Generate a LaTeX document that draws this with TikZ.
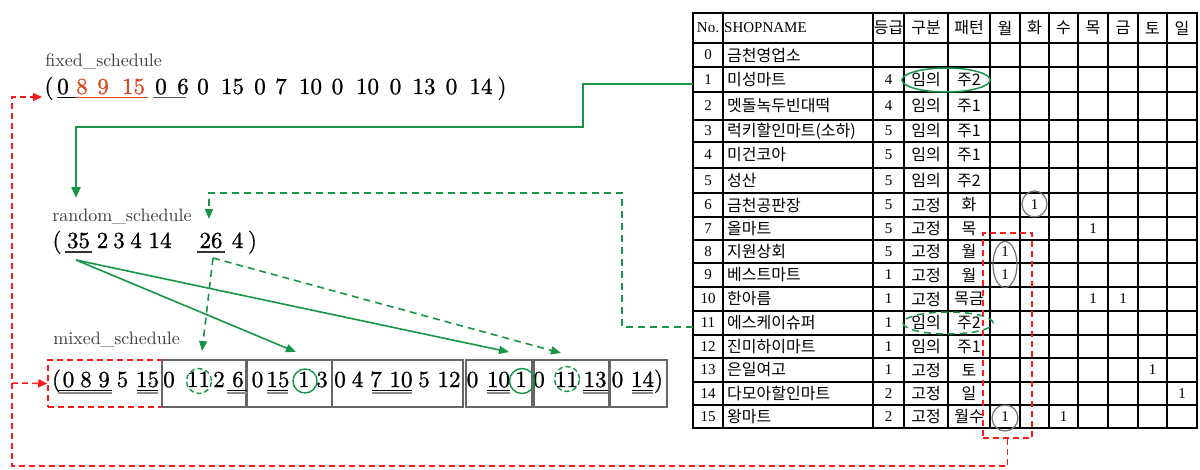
\documentclass[tikz,border=0pt]{standalone}
\usepackage{fontspec}
\newfontfamily\korfont{Noto Sans CJK KR}
\newfontfamily\serfont{Liberation Serif}
\newfontfamily\tokfont{Latin Modern Roman}[FakeBold=0.9]
\usetikzlibrary{arrows.meta,shapes.geometric}
\definecolor{fred}{RGB}{222,72,32}
\definecolor{gr}{RGB}{22,150,72}
\definecolor{rd}{RGB}{255,25,25}
\begin{document}
\begin{tikzpicture}[x=1pt,y=-1pt,
  tok/.style={anchor=base,inner sep=0,font=\tokfont\fontsize{10}{12}\selectfont,scale=2.3,transform shape},
  lbl/.style={anchor=base west,inner sep=0,text=black!76,font=\fontsize{10}{12}\selectfont,scale=1.8,transform shape},
  tline/.style={line width=1.7pt,line cap=rect},
  knode/.style={inner sep=0,font=\korfont\fontsize{16}{18}\selectfont},
  snode/.style={inner sep=0,font=\serfont\fontsize{15}{17}\selectfont},
  mbox/.style={draw=black!60,line width=1.3pt,inner sep=0},
  gline/.style={draw=gr,line width=2.2pt,-{Triangle[length=11pt,width=9pt]}},
  garrow/.style={draw=gr,line width=1.6pt,-{Triangle[length=10pt,width=8pt]}},
  gdash/.style={draw=gr,line width=1.6pt,dash pattern=on 7pt off 5pt,-{Triangle[length=10pt,width=8pt]}},
  rdash/.style={draw=rd,line width=1.5pt,dash pattern=on 6pt off 4pt},
  rarrow/.style={rdash,-{Triangle[length=9pt,width=8pt]}},
  gcirc/.style={ellipse,draw=black!55,line width=1.2pt,inner sep=0},
  ulb/.style={line width=1.1pt},
]
\useasboundingbox (0,0) rectangle (1200,469);
\fill[white] (0,0) rectangle (1200,469);

% ---------- table grid ----------
\foreach \x in {693,723,873,904,948,990,1020,1049,1078,1108,1138,1167,1197}
  \draw[tline] (\x,13) -- (\x,428);
\foreach \y in {13,43,67,92,120,142,168,193,217,240,263,287,311,335,358,382,405,428}
  \draw[tline] (693,\y) -- (1197,\y);

% header
\node[snode] (hno) at (708,28) {No.};
\node[snode,anchor=west] (hname) at (724,28) {SHOPNAME};
\foreach \x/\t/\nm in {888.5/등급/hg,926/구분/hk,969/패턴/hp,1005/월/hmo,1034.5/화/htu,1063.5/수/hwe,1093/목/hth,1123/금/hfr,1152.5/토/hsa,1182/일/hsu}
  \node[knode] (\nm) at (\x,28) {\t};

% rows
\foreach \y/\n/\s/\g/\k/\p in {
55/0/금천영업소/{}/{}/{},
79.5/1/미성마트/4/임의/주2,
106/2/멧돌녹두빈대떡/4/임의/주1,
131/3/{럭키할인마트(소하)}/5/임의/주1,
155/4/미건코아/5/임의/주1,
180.5/5/성산/5/임의/주2,
205/6/금천공판장/5/고정/화,
228.5/7/올마트/5/고정/목,
251.5/8/지원상회/5/고정/월,
275/9/베스트마트/1/고정/월,
299/10/한아름/1/고정/목금,
323/11/에스케이슈퍼/1/임의/주2,
346.5/12/진미하이마트/1/임의/주1,
370/13/은일여고/1/고정/토,
393.5/14/다모아할인마트/2/고정/일,
416.5/15/왕마트/2/고정/월수}
{
  \node[snode] (no\n) at (708,\y) {\n};
  \node[knode,anchor=west] (nm\n) at (727,\y) {\s};
  \node[snode] (gd\n) at (888.5,\y) {\g};
  \node[knode] (kb\n) at (926,\y) {\k};
  \node[knode] (pt\n) at (969,\y) {\p};
}
\foreach \x/\y/\nm in {1034.5/205/d6,1093/228.5/d7,1005/251.5/d8,1005/275/d9,1093/299/d10a,1123/299/d10b,1152.5/370/d13,1182/393.5/d14,1005/416.5/d15a,1063.5/416.5/d15b}
  \node[snode] (\nm) at (\x,\y) {1};

% gray circles in table
\node[gcirc,minimum width=25pt,minimum height=26pt] (e6) at (1034.5,204) {};
\node[gcirc,minimum width=24pt,minimum height=46pt] (e89) at (1005,264.5) {};
\node[gcirc,minimum width=26pt,minimum height=26pt] (e15) at (1005,418) {};

% green ellipses in table
\node[ellipse,draw=gr,line width=1.5pt,minimum width=88pt,minimum height=24pt,inner sep=0] (el1) at (946,80) {};
\node[ellipse,draw=gr,line width=1.5pt,dash pattern=on 7pt off 5pt,minimum width=90pt,minimum height=22pt,inner sep=0] (el11) at (948,323) {};

% red dashed rectangle in table
\node[rdash,draw=rd,minimum width=49pt,minimum height=205pt,inner sep=0] (redrect) at (1007.5,335.5) {};

% ---------- labels ----------
\node[lbl] (lfix) at (45,66.5) {fixed\_schedule};
\node[lbl] (lrnd) at (52,221) {random\_schedule};
\node[lbl] (lmix) at (53,344) {mixed\_schedule};

% fixed schedule tokens
\foreach \x/\t/\c [count=\i] in {49/{(}/black,63/0/black,82/8/fred,103/9/fred,133.5/15/fred,161/0/black,183/6/black,203/0/black,232.5/15/black,260/0/black,281/7/black,310.5/10/black,337.5/0/black,367.5/10/black,395.5/0/black,424/13/black,451.5/0/black,481/14/black,502/{)}/black}
  \node[tok,text=\c] (f\i) at (\x,94) {\t};
\draw[ulb] (57,97.5) -- (75,97.5);
\draw[ulb,fred] (75,97.5) -- (148,97.5);
\draw[ulb,black!65] (153,97.5) -- (186,97.5);

% random schedule tokens
\foreach \x/\t [count=\i] in {57/{(},78.5/35,102.5/2,119/3,136/4,160/14,211/26,237.5/4,252.5/{)}}
  \node[tok] (r\i) at (\x,248) {\t};
\draw[ulb,black!80] (65,252) -- (92,252);
\draw[ulb,black!80] (197,252) -- (225,252);

% mixed schedule boxes
\node[rdash,draw=rd,minimum width=114pt,minimum height=47pt] (m0) at (105,383.5) {};
\node[mbox,minimum width=84pt,minimum height=47pt] (m1) at (204,383.5) {};
\node[mbox,minimum width=85pt,minimum height=47pt] (m2) at (289.5,383.5) {};
\node[mbox,minimum width=131pt,minimum height=47pt] (m3) at (397.5,383.5) {};
\node[mbox,minimum width=66pt,minimum height=47pt] (m4) at (499,383.5) {};
\node[mbox,minimum width=75pt,minimum height=47pt] (m5) at (571.5,383.5) {};
\node[mbox,minimum width=57pt,minimum height=47pt] (m6) at (638.5,383.5) {};

% mixed schedule tokens
\foreach \x/\t [count=\i] in {56.5/{(},68.5/0,86/8,104/9,122.5/5,147.5/15,169/0,198.5/11,219/2,238/6,257.5/0,278/15,304/1,322/3,340/0,357.5/4,376/7,401/10,424/5,449/12,472.5/0,498.5/10,521/1,539/0,566.5/11,595/13,617.5/0,642.5/14,658.5/{)}}
  \node[tok] (x\i) at (\x,387) {\t};
\foreach \a/\b in {58/112,137/158,227/247,267/288,372/412,487/510,583/608,632/653}{
  \draw[ulb] (\a,390.5) -- (\b,390.5);
  \draw[ulb,black!45] (\a,393) -- (\b,393);
}

% circles in mixed schedule
\node[circle,draw=gr,line width=1.4pt,dash pattern=on 5pt off 3pt,minimum size=25pt,inner sep=0] (c1) at (199,381) {};
\node[circle,draw=gr,line width=1.4pt,minimum size=24pt,inner sep=0] (c2) at (305,381) {};
\node[circle,draw=gr,line width=1.4pt,minimum size=25pt,inner sep=0] (c3) at (522,381) {};
\node[circle,draw=gr,line width=1.4pt,dash pattern=on 5pt off 3pt,minimum size=25pt,inner sep=0] (c4) at (567,379) {};

% ---------- connectors ----------
\coordinate (gs) at (693,84);
\coordinate (gt) at (76,198);
\draw[gline] (gs) -- (583,84) -- (583,127) -- (76,127) -- (gt);

\coordinate (ds) at (693,327);
\coordinate (dt) at (209,219);
\draw[gdash] (ds) -- (622,327) -- (622,193) -- (209,193) -- (dt);

\coordinate (s35) at (76,260);
\coordinate (s26) at (213,258);
\coordinate (t1) at (296,352);
\coordinate (t2) at (509,352);
\coordinate (t3) at (202,351);
\coordinate (t4) at (561,353);
\draw[garrow] (s35) -- (t1);
\draw[garrow] (s35) -- (t2);
\draw[gdash] (s26) -- (t3);
\draw[gdash] (s26) -- (t4);

\coordinate (fa) at (42,97);
\coordinate (rb) at (12,383);
\draw[rarrow] (redrect.south) -- (1007.5,466) -- (12,466) -- (12,97) -- (fa);
\draw[rarrow] (rb) -- (m0.west);
\end{tikzpicture}
\end{document}
